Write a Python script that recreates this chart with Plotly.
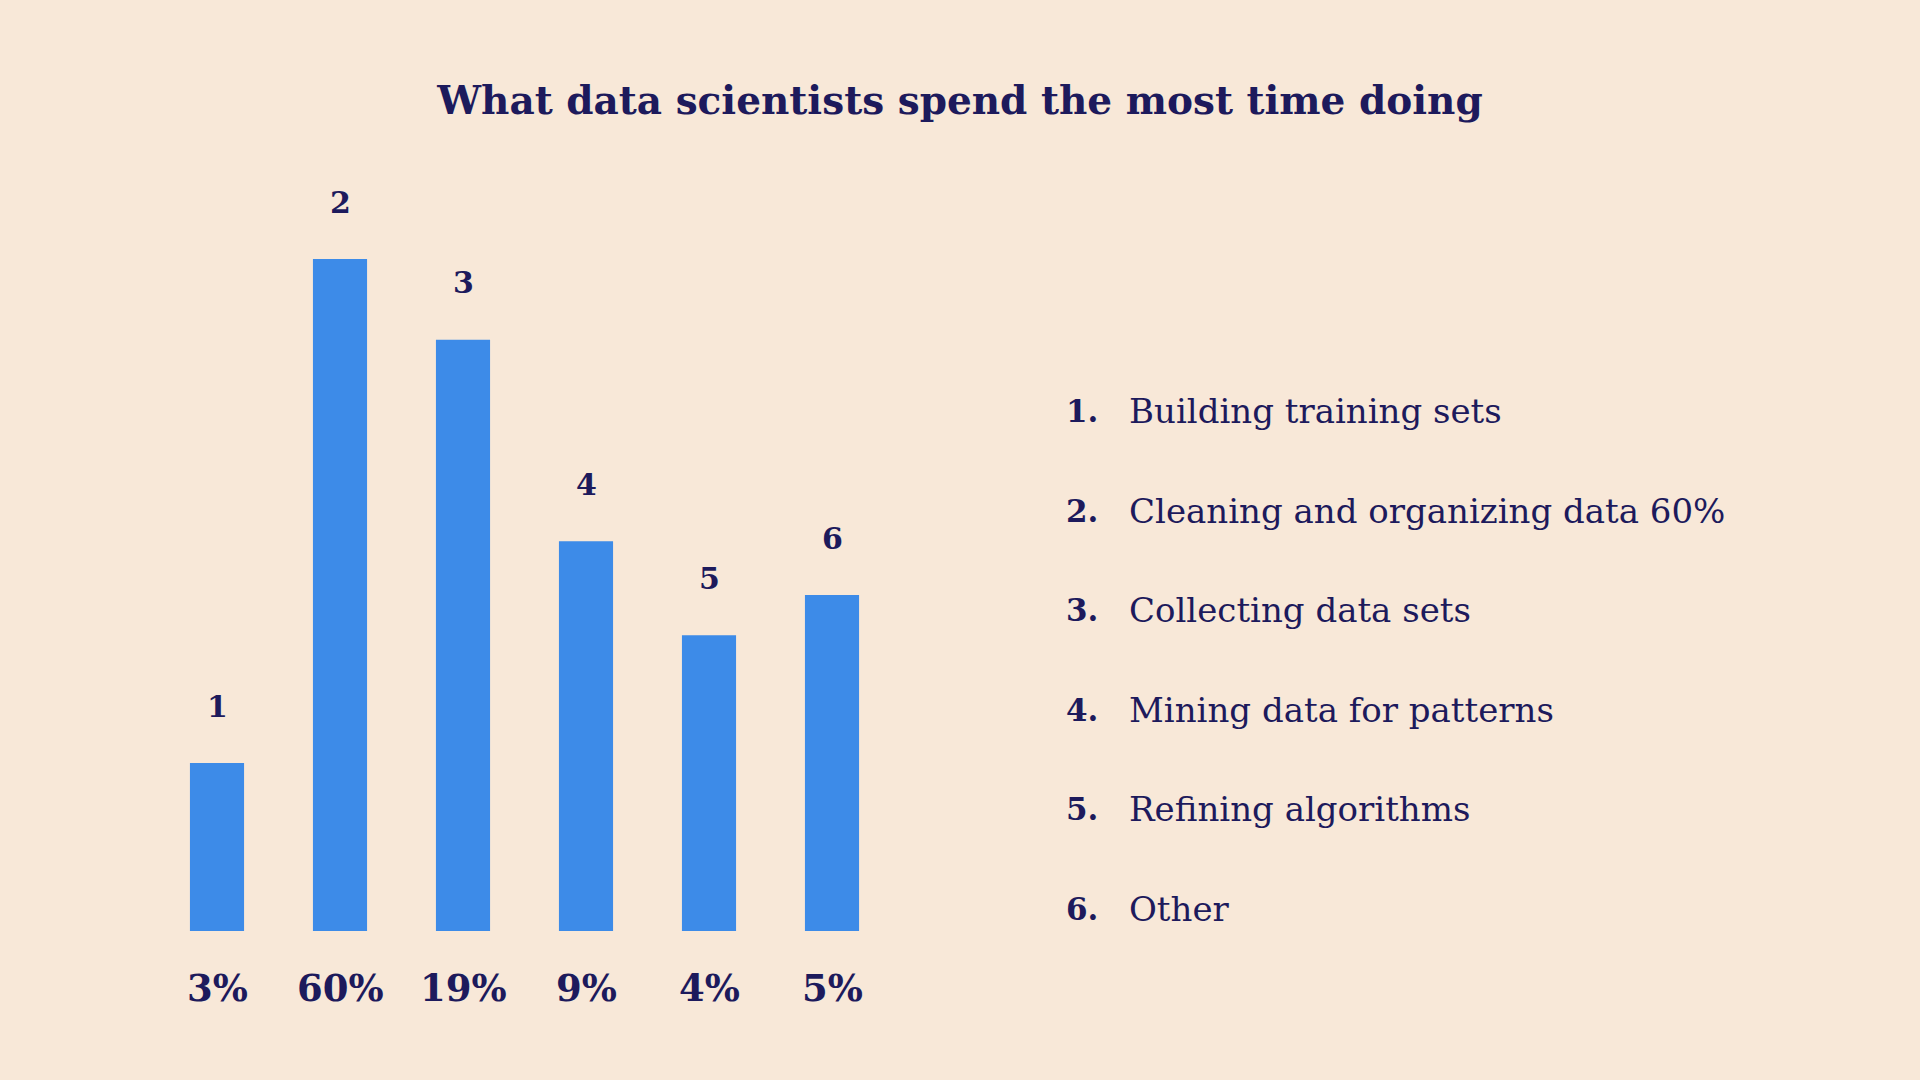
import plotly.graph_objects as go

# ---- data ----
categories = ["1", "2", "3", "4", "5", "6"]
bar_heights = [25, 100, 88, 58, 44, 50]
pct_labels = ["3%", "60%", "19%", "9%", "4%", "5%"]
item_numbers = ["1.", "2.", "3.", "4.", "5.", "6."]
item_labels = [
    "Building training sets",
    "Cleaning and organizing data 60%",
    "Collecting data sets",
    "Mining data for patterns",
    "Refining algorithms",
    "Other",
]
title_text = "What data scientists spend the most time doing"

# ---- style ----
W, H = 1920, 1080
BG = "#F8E8D8"
BAR = "#3D8BE8"
INK = "#1D1A5C"
FONT = "DejaVu Serif"

fig = go.Figure()
fig.add_trace(go.Bar(
    x=categories, y=bar_heights,
    marker=dict(color=BAR, line=dict(width=0)),
    width=0.44, hoverinfo="skip",
))

ann = []
for i, (c, h) in enumerate(zip(categories, bar_heights)):
    ann.append(dict(x=i, y=h, xref="x", yref="y", text="<b>%s</b>" % c,
                    showarrow=False, yanchor="middle", yshift=57,
                    font=dict(family=FONT, size=30, color=INK)))
for i, p in enumerate(pct_labels):
    ann.append(dict(x=i, y=0, xref="x", yref="y", text="<b>%s</b>" % p,
                    showarrow=False, yanchor="middle", yshift=-57,
                    font=dict(family=FONT, size=37, color=INK)))

row_top = 411
row_gap = 99.6
for i, (n, t) in enumerate(zip(item_numbers, item_labels)):
    yy = 1 - (row_top + i * row_gap) / H
    ann.append(dict(x=1100 / W, y=yy, xref="paper", yref="paper",
                    text="<b>%s</b>" % n, showarrow=False,
                    xanchor="right", yanchor="middle",
                    font=dict(family=FONT, size=31, color=INK)))
    ann.append(dict(x=1127 / W, y=yy, xref="paper", yref="paper",
                    text=t, showarrow=False,
                    xanchor="left", yanchor="middle",
                    font=dict(family=FONT, size=34, color=INK)))

fig.update_layout(
    width=W, height=H,
    paper_bgcolor=BG, plot_bgcolor=BG,
    margin=dict(l=0, r=0, t=0, b=0),
    showlegend=False,
    title=dict(text="<b>%s</b>" % title_text, x=0.5, xanchor="center",
               y=1 - 100 / H, yanchor="middle", yref="container",
               font=dict(family=FONT, size=39, color=INK)),
    xaxis=dict(type="category", domain=[155.5 / W, 893.5 / W], range=[-0.5, 5.5],
               showticklabels=False, showgrid=False, zeroline=False,
               showline=False, ticks=""),
    yaxis=dict(domain=[149 / H, 821 / H], range=[0, 100],
               showticklabels=False, showgrid=False, zeroline=False,
               showline=False, ticks=""),
    annotations=ann,
)

fig.write_html("out.html", config={"displayModeBar": False},
               post_script="document.body.style.margin='0';document.body.style.overflow='hidden';")
